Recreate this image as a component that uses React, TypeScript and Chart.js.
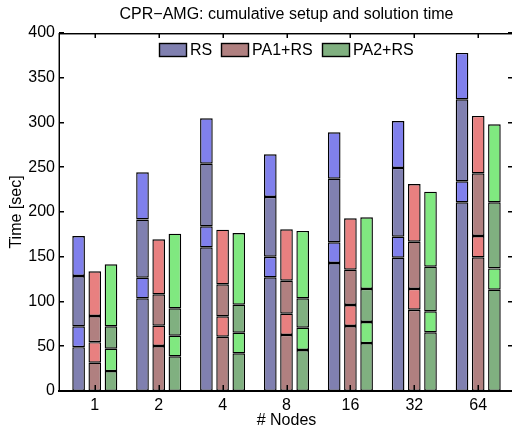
import React, { useEffect, useRef } from 'react';
import { Chart, registerables } from 'chart.js';

Chart.register(...registerables);

const FONT = '"Liberation Sans", Arial, Helvetica, sans-serif';

const titleText = 'CPR\u2212AMG: cumulative setup and solution time';
const xTitle = '# Nodes';
const yTitle = 'Time [sec]';

const categories = ['1', '2', '4', '8', '16', '32', '64'];
const methods = ['RS', 'PA1+RS', 'PA2+RS'];
const yTicks = [0, 50, 100, 150, 200, 250, 300, 350, 400];

// segment values (stacked bottom -> top) per method
const rsSeg1 = [49, 103.5, 160.5, 127, 143, 149, 210.8];
const rsSeg2 = [23.3, 23.1, 23.5, 23, 23.1, 23.4, 23.5];
const rsSeg3 = [56.2, 65, 70, 66.8, 71.1, 76.8, 91.6];
const rsSeg4 = [44.7, 52.7, 50.7, 47.6, 51.8, 52.5, 51.8];

const pa1Seg1 = [31.6, 50.3, 60.7, 62.6, 72.6, 90.8, 149.4];
const pa1Seg2 = [23, 22.7, 22.7, 23.8, 23.5, 23.2, 23.8];
const pa1Seg3 = [29.2, 35, 35.8, 36.9, 39.5, 52.8, 70];
const pa1Seg4 = [49.9, 61.5, 61.1, 57.4, 57.4, 64.5, 64.1];

const pa2Seg1 = [22.3, 38.7, 42.1, 45.8, 53.6, 65.6, 113.2];
const pa2Seg2 = [25, 23.1, 23.1, 24.9, 23.5, 23.4, 23.8];
const pa2Seg3 = [25, 30.6, 31.3, 32.8, 36.9, 49.9, 73.8];
const pa2Seg4 = [69.2, 83.4, 80, 75.3, 80, 83.8, 87.2];

const segments = [
  [rsSeg1, rsSeg2, rsSeg3, rsSeg4],
  [pa1Seg1, pa1Seg2, pa1Seg3, pa1Seg4],
  [pa2Seg1, pa2Seg2, pa2Seg3, pa2Seg4],
];

const darkColors = ['#8080b0', '#b08080', '#80b080'];
const lightColors = ['#8080ec', '#e88080', '#80e880'];

const framePlugin = {
  id: 'frame',
  afterDraw(chart: any) {
    const { ctx, chartArea: a, scales } = chart;
    const x = scales.x;
    const y = scales.y;
    const L = Math.round(a.left);
    const T = Math.round(a.top);
    const R = Math.round(a.right);
    const B = Math.round(a.bottom);
    ctx.save();
    // frame: 1px black with a soft neighbouring pixel
    ctx.fillStyle = 'rgba(0,0,0,0.45)';
    ctx.fillRect(L, T, R - L, 2);
    ctx.fillRect(L - 1, T, 2, B - T);
    ctx.fillStyle = '#000';
    ctx.fillRect(L, T - 1 + 1, R - L, 1);
    ctx.fillRect(L - 1 + 1, T, 1, B - T);
    ctx.fillRect(R - 2, T, 2, B - T);
    ctx.fillRect(L - 1, B - 1, R - L + 1, 2);
    // inward ticks
    y.ticks.forEach((t: any) => {
      const py = Math.round(y.getPixelForValue(t.value));
      ctx.fillRect(L, py - 1, 5, 1.5);
      ctx.fillRect(R - 6, py - 1, 5, 1.5);
    });
    x.ticks.forEach((t: any) => {
      const px = Math.round(x.getPixelForValue(t.value));
      ctx.fillRect(px - 0.5, T, 1.5, 5);
      ctx.fillRect(px - 0.5, B - 6, 1.5, 5);
    });
    const cx = (a.left + a.right) / 2;
    ctx.font = `16px ${FONT}`;
    ctx.textAlign = 'center';
    ctx.textBaseline = 'middle';
    ctx.fillText(titleText, cx, 15);
    // legend
    const boxW = 28;
    const boxH = 14;
    const gapText = 3;
    const gapItem = 9;
    const widths = methods.map((m) => ctx.measureText(m).width);
    const total = widths.reduce((s, w) => s + boxW + gapText + w, 0) + gapItem * (methods.length - 1);
    let lx = Math.round(cx - total / 2);
    const ly = T + 10;
    ctx.textAlign = 'left';
    methods.forEach((m, i) => {
      const bx = Math.round(lx);
      ctx.fillStyle = darkColors[i];
      ctx.fillRect(bx, ly, boxW, boxH);
      ctx.strokeStyle = '#000';
      ctx.lineWidth = 1.4;
      ctx.strokeRect(bx + 0.5, ly + 0.5, boxW - 1, boxH - 1);
      ctx.fillStyle = '#000';
      ctx.fillText(m, bx + boxW + gapText, ly + boxH / 2 + 0.5);
      lx += boxW + gapText + widths[i] + gapItem;
    });
    ctx.restore();
  },
};

export default function App() {
  const ref = useRef<HTMLCanvasElement | null>(null);

  useEffect(() => {
    if (!ref.current) return;
    Chart.defaults.font.family = FONT;
    Chart.defaults.font.size = 16;
    Chart.defaults.color = '#000';

    const datasets: any[] = [];
    methods.forEach((m, mi) => {
      segments[mi].forEach((seg, si) => {
        datasets.push({
          label: m,
          stack: m,
          data: seg.map((v, i) => ({ x: i + 1, y: v })),
          backgroundColor: si % 2 === 0 ? darkColors[mi] : lightColors[mi],
          borderColor: '#000',
          borderWidth: 1.4,
          borderSkipped: false,
          categoryPercentage: 0.76,
          barPercentage: 0.78,
        });
      });
    });

    const chart = new Chart(ref.current, {
      type: 'bar',
      data: { datasets },
      options: {
        animation: false,
        responsive: false,
        devicePixelRatio: 1,
        layout: { padding: { top: 33, left: 0, right: 0, bottom: 0 } },
        plugins: {
          legend: { display: false },
          title: { display: false },
          tooltip: { enabled: false },
        },
        scales: {
          x: {
            type: 'linear',
            offset: false,
            min: 0.44,
            max: 7.56,
            stacked: true,
            grid: { display: false, drawTicks: false },
            border: { display: false },
            afterBuildTicks: (scale: any) => {
              scale.ticks = categories.map((_, i) => ({ value: i + 1 }));
            },
            afterFit: (scale: any) => {
              scale.height = 36;
            },
            ticks: {
              autoSkip: false,
              maxRotation: 0,
              padding: 5,
              callback: (v: any) => categories[Number(v) - 1] ?? '',
            },
            title: {
              display: true,
              text: xTitle,
              font: { size: 16, lineHeight: 0.75 },
              padding: 0,
            },
          },
          y: {
            type: 'linear',
            min: 0,
            max: 400,
            stacked: true,
            grid: { display: false, drawTicks: false },
            border: { display: false },
            afterBuildTicks: (scale: any) => {
              scale.ticks = yTicks.map((v) => ({ value: v }));
            },
            afterFit: (scale: any) => {
              scale.width = 59;
            },
            ticks: { padding: 4 },
            title: {
              display: true,
              text: yTitle,
              font: { size: 16, lineHeight: 1 },
              padding: { top: 9, bottom: 0 },
            },
          },
        },
      },
      plugins: [framePlugin],
    });
    return () => chart.destroy();
  }, []);

  return (
    <div style={{ position: 'absolute', left: 0, top: 0, width: 512, height: 427, overflow: 'hidden', background: '#fff' }}>
      <canvas ref={ref} width={514} height={427} style={{ display: 'block' }} />
    </div>
  );
}
